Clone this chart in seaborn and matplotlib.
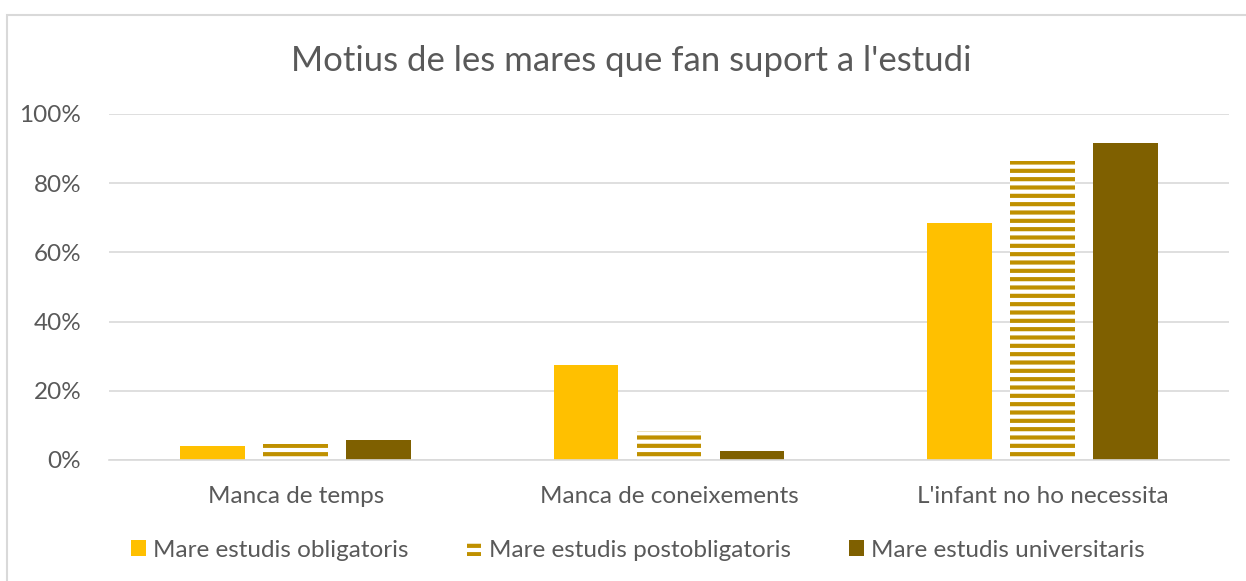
import numpy as np
import pandas as pd
import matplotlib
matplotlib.use("Agg")
import matplotlib.pyplot as plt
from matplotlib.patches import Patch, Rectangle
import seaborn as sns

# data (percent)
categories = ["Manca de temps", "Manca de coneixements", "L'infant no ho necessita"]
series = ["Mare estudis obligatoris", "Mare estudis postobligatoris", "Mare estudis universitaris"]
obligatoris = [4.0, 27.5, 68.5]
postobligatoris = [4.6, 8.4, 86.4]
universitaris = [5.8, 2.6, 91.6]

colors = ["#FFC000", "#BF9000", "#7F6000"]
text_col = "#595959"

df = pd.DataFrame({
    "categoria": categories * 3,
    "serie": [series[0]] * 3 + [series[1]] * 3 + [series[2]] * 3,
    "valor": obligatoris + postobligatoris + universitaris,
})

sns.set_style("white")
plt.rcParams["font.family"] = ["Lato", "DejaVu Sans"]
plt.rcParams["hatch.linewidth"] = 3.0

fig = plt.figure(figsize=(12.46, 5.81), dpi=100)
ax = fig.add_axes([0.0875, 0.2083, 0.8989, 0.5955])

# chart frame (cut off at right and bottom, as in the original)
fig.add_artist(Rectangle((7 / 1246, -0.1), 1.2, 0.1 + 1 - 15 / 581,
                         transform=fig.transFigure, fill=False,
                         edgecolor="#D9D9D9", linewidth=1.5))

sns.barplot(data=df, x="categoria", y="valor", hue="serie", order=categories,
            hue_order=series, palette=colors, saturation=1, width=0.667,
            gap=0.22, linewidth=0, ax=ax, legend=False)

# striped look for the second series
for bar in ax.containers[1]:
    bar.set_facecolor("white")
    bar.set_edgecolor(colors[1])
    bar.set_hatch("--")
    bar.set_linewidth(0)

ax.set_ylim(0, 100)
ax.set_xlim(-0.5, 2.5)
ax.set_yticks(np.arange(0, 101, 20))
ax.set_yticklabels([f"{v}%" for v in range(0, 101, 20)])
ax.yaxis.grid(True, color="#D9D9D9", linewidth=1.2)
ax.set_axisbelow(True)
for s in ["top", "right", "left"]:
    ax.spines[s].set_visible(False)
ax.spines["bottom"].set_color("#D9D9D9")
ax.spines["bottom"].set_linewidth(1.2)
ax.tick_params(axis="both", length=0, labelsize=17.5, colors=text_col)
ax.tick_params(axis="y", pad=20)
ax.tick_params(axis="x", pad=19)
ax.set_xlabel("")
ax.set_ylabel("")

fig.suptitle("Motius de les mares que fan suport a l'estudi", fontsize=25,
             color=text_col, y=0.922, x=0.507)

handles = [
    Patch(facecolor=colors[0], edgecolor="none"),
    Patch(facecolor="white", edgecolor=colors[1], hatch="--", linewidth=0),
    Patch(facecolor=colors[2], edgecolor="none"),
]
leg = fig.legend(handles, series, loc="center", bbox_to_anchor=(0.512, 0.053),
                 ncol=3, frameon=False, fontsize=17.5, handlelength=0.6,
                 handleheight=0.6, handletextpad=0.3, columnspacing=2.4)
for t in leg.get_texts():
    t.set_color(text_col)

fig.savefig("out.png", dpi=100)
